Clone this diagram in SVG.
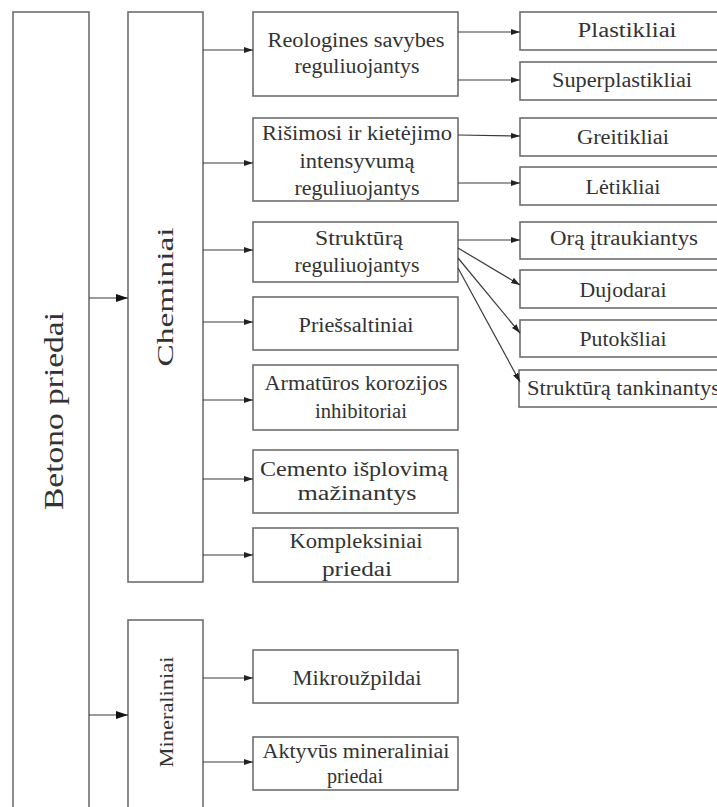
<svg xmlns="http://www.w3.org/2000/svg" width="717" height="807" viewBox="0 0 717 807">
<style>
.box{fill:#fff;stroke:#6e6e6e;stroke-width:1.6}
.ln{fill:none;stroke:#3a3a3a;stroke-width:1.2}
.t{font-family:"Liberation Serif","Times New Roman",serif;font-size:20px;fill:#333;text-anchor:middle}
.ts{font-family:"Liberation Serif","Times New Roman",serif;font-size:20px;fill:#333;text-anchor:start}
.big{font-size:28px}
.mid{font-size:24px}
.min{font-size:19px}
</style>
<defs>
<marker id="a" markerUnits="userSpaceOnUse" markerWidth="10" markerHeight="8" refX="9" refY="3" orient="auto">
<path d="M0,0 L9,3 L0,6 z" fill="#222"/>
</marker>
<marker id="A" markerUnits="userSpaceOnUse" markerWidth="13" markerHeight="10" refX="12" refY="4" orient="auto">
<path d="M0,0 L12,4 L0,8 z" fill="#111"/>
</marker>
</defs>
<rect width="717" height="807" fill="#fff"/>

<g id="betono">
<rect class="box" x="13" y="12" width="76" height="810"/>
<text class="t big" x="63" y="411" transform="rotate(-90 63 411)" textLength="198" lengthAdjust="spacingAndGlyphs">Betono priedai</text>
</g>
<g id="cheminiai">
<rect class="box" x="128" y="12" width="75" height="570"/>
<text class="t mid" x="173" y="297" transform="rotate(-90 173 297)" textLength="139" lengthAdjust="spacingAndGlyphs">Cheminiai</text>
</g>
<g id="mineraliniai">
<rect class="box" x="128" y="620" width="75" height="200"/>
<text class="t min" x="173" y="712" transform="rotate(-90 173 712)" textLength="111" lengthAdjust="spacingAndGlyphs">Mineraliniai</text>
</g>

<g id="reologines">
<rect class="box" x="253" y="12" width="205" height="84"/>
<text class="t" x="356" y="47" textLength="177" lengthAdjust="spacingAndGlyphs">Reologines savybes</text>
<text class="t" x="357" y="73" textLength="125" lengthAdjust="spacingAndGlyphs">reguliuojantys</text>
</g>
<g id="risimosi">
<rect class="box" x="253" y="118" width="205" height="83"/>
<text class="t" x="357" y="140" textLength="190" lengthAdjust="spacingAndGlyphs">Rišimosi ir kietėjimo</text>
<text class="t" x="357" y="168" textLength="115" lengthAdjust="spacingAndGlyphs">intensyvumą</text>
<text class="t" x="357" y="195" textLength="125" lengthAdjust="spacingAndGlyphs">reguliuojantys</text>
</g>
<g id="strukturq">
<rect class="box" x="253" y="222" width="205" height="60"/>
<text class="t" x="359" y="245" textLength="88" lengthAdjust="spacingAndGlyphs">Struktūrą</text>
<text class="t" x="357" y="272" textLength="125" lengthAdjust="spacingAndGlyphs">reguliuojantys</text>
</g>
<g id="priessaltiniai">
<rect class="box" x="253" y="297" width="205" height="53"/>
<text class="t" x="356" y="332" textLength="115" lengthAdjust="spacingAndGlyphs">Priešsaltiniai</text>
</g>
<g id="armaturos">
<rect class="box" x="253" y="365" width="205" height="65"/>
<text class="t" x="356" y="390" textLength="183" lengthAdjust="spacingAndGlyphs">Armatūros korozijos</text>
<text class="t" x="361" y="418" textLength="92" lengthAdjust="spacingAndGlyphs">inhibitoriai</text>
</g>
<g id="cemento">
<rect class="box" x="253" y="450" width="205" height="63"/>
<text class="t" x="354" y="476" textLength="188" lengthAdjust="spacingAndGlyphs">Cemento išplovimą</text>
<text class="t" x="357" y="500" textLength="119" lengthAdjust="spacingAndGlyphs">mažinantys</text>
</g>
<g id="kompleksiniai">
<rect class="box" x="253" y="528" width="205" height="54"/>
<text class="t" x="356" y="548" textLength="133" lengthAdjust="spacingAndGlyphs">Kompleksiniai</text>
<text class="t" x="357" y="576" textLength="70" lengthAdjust="spacingAndGlyphs">priedai</text>
</g>
<g id="mikrouzpildai">
<rect class="box" x="253" y="650" width="205" height="53"/>
<text class="t" x="357" y="685" textLength="129" lengthAdjust="spacingAndGlyphs">Mikroužpildai</text>
</g>
<g id="aktyvus">
<rect class="box" x="253" y="737" width="205" height="53"/>
<text class="t" x="356" y="758" textLength="187" lengthAdjust="spacingAndGlyphs">Aktyvūs mineraliniai</text>
<text class="t" x="355" y="783" textLength="56" lengthAdjust="spacingAndGlyphs">priedai</text>
</g>

<g id="plastikliai">
<rect class="box" x="520" y="12" width="210" height="38"/>
<text class="t" x="627" y="37" textLength="99" lengthAdjust="spacingAndGlyphs">Plastikliai</text>
</g>
<g id="superplastikliai">
<rect class="box" x="520" y="62" width="210" height="38"/>
<text class="t" x="622" y="87" textLength="140" lengthAdjust="spacingAndGlyphs">Superplastikliai</text>
</g>
<g id="greitikliai">
<rect class="box" x="520" y="118" width="210" height="38"/>
<text class="t" x="623" y="144" textLength="92" lengthAdjust="spacingAndGlyphs">Greitikliai</text>
</g>
<g id="letikliai">
<rect class="box" x="520" y="167" width="210" height="38"/>
<text class="t" x="623" y="194" textLength="75" lengthAdjust="spacingAndGlyphs">Lėtikliai</text>
</g>
<g id="ora">
<rect class="box" x="520" y="222" width="210" height="37"/>
<text class="t" x="624" y="245" textLength="148" lengthAdjust="spacingAndGlyphs">Orą įtraukiantys</text>
</g>
<g id="dujodarai">
<rect class="box" x="520" y="270" width="210" height="38"/>
<text class="t" x="623" y="297" textLength="87" lengthAdjust="spacingAndGlyphs">Dujodarai</text>
</g>
<g id="putoksliai">
<rect class="box" x="520" y="320" width="210" height="37"/>
<text class="t" x="623" y="346" textLength="87" lengthAdjust="spacingAndGlyphs">Putokšliai</text>
</g>
<g id="tankinantys">
<rect class="box" x="519" y="370" width="210" height="37"/>
<text class="ts" x="527" y="395" textLength="193" lengthAdjust="spacingAndGlyphs">Struktūrą tankinantys</text>
</g>

<g id="connectors">
<line class="ln" x1="89" y1="298" x2="128" y2="298" marker-end="url(#A)"/>
<line class="ln" x1="89" y1="715" x2="128" y2="715" marker-end="url(#A)"/>
<line class="ln" x1="203" y1="50" x2="253" y2="50" marker-end="url(#a)"/>
<line class="ln" x1="203" y1="163" x2="253" y2="163" marker-end="url(#a)"/>
<line class="ln" x1="203" y1="250" x2="253" y2="250" marker-end="url(#a)"/>
<line class="ln" x1="203" y1="322" x2="253" y2="322" marker-end="url(#a)"/>
<line class="ln" x1="203" y1="400" x2="253" y2="400" marker-end="url(#a)"/>
<line class="ln" x1="203" y1="479" x2="253" y2="479" marker-end="url(#a)"/>
<line class="ln" x1="203" y1="555" x2="253" y2="555" marker-end="url(#a)"/>
<line class="ln" x1="203" y1="678" x2="253" y2="678" marker-end="url(#a)"/>
<line class="ln" x1="203" y1="762" x2="253" y2="762" marker-end="url(#a)"/>
<line class="ln" x1="458" y1="32" x2="520" y2="32" marker-end="url(#a)"/>
<line class="ln" x1="458" y1="80" x2="520" y2="80" marker-end="url(#a)"/>
<line class="ln" x1="458" y1="135" x2="520" y2="136" marker-end="url(#a)"/>
<line class="ln" x1="458" y1="183" x2="520" y2="183" marker-end="url(#a)"/>
<line class="ln" x1="458" y1="240" x2="520" y2="240" marker-end="url(#a)"/>
<line class="ln" x1="458" y1="248" x2="520" y2="285" marker-end="url(#a)"/>
<line class="ln" x1="458" y1="258" x2="520" y2="333" marker-end="url(#a)"/>
<line class="ln" x1="458" y1="268" x2="520" y2="382" marker-end="url(#a)"/>
</g>
</svg>
